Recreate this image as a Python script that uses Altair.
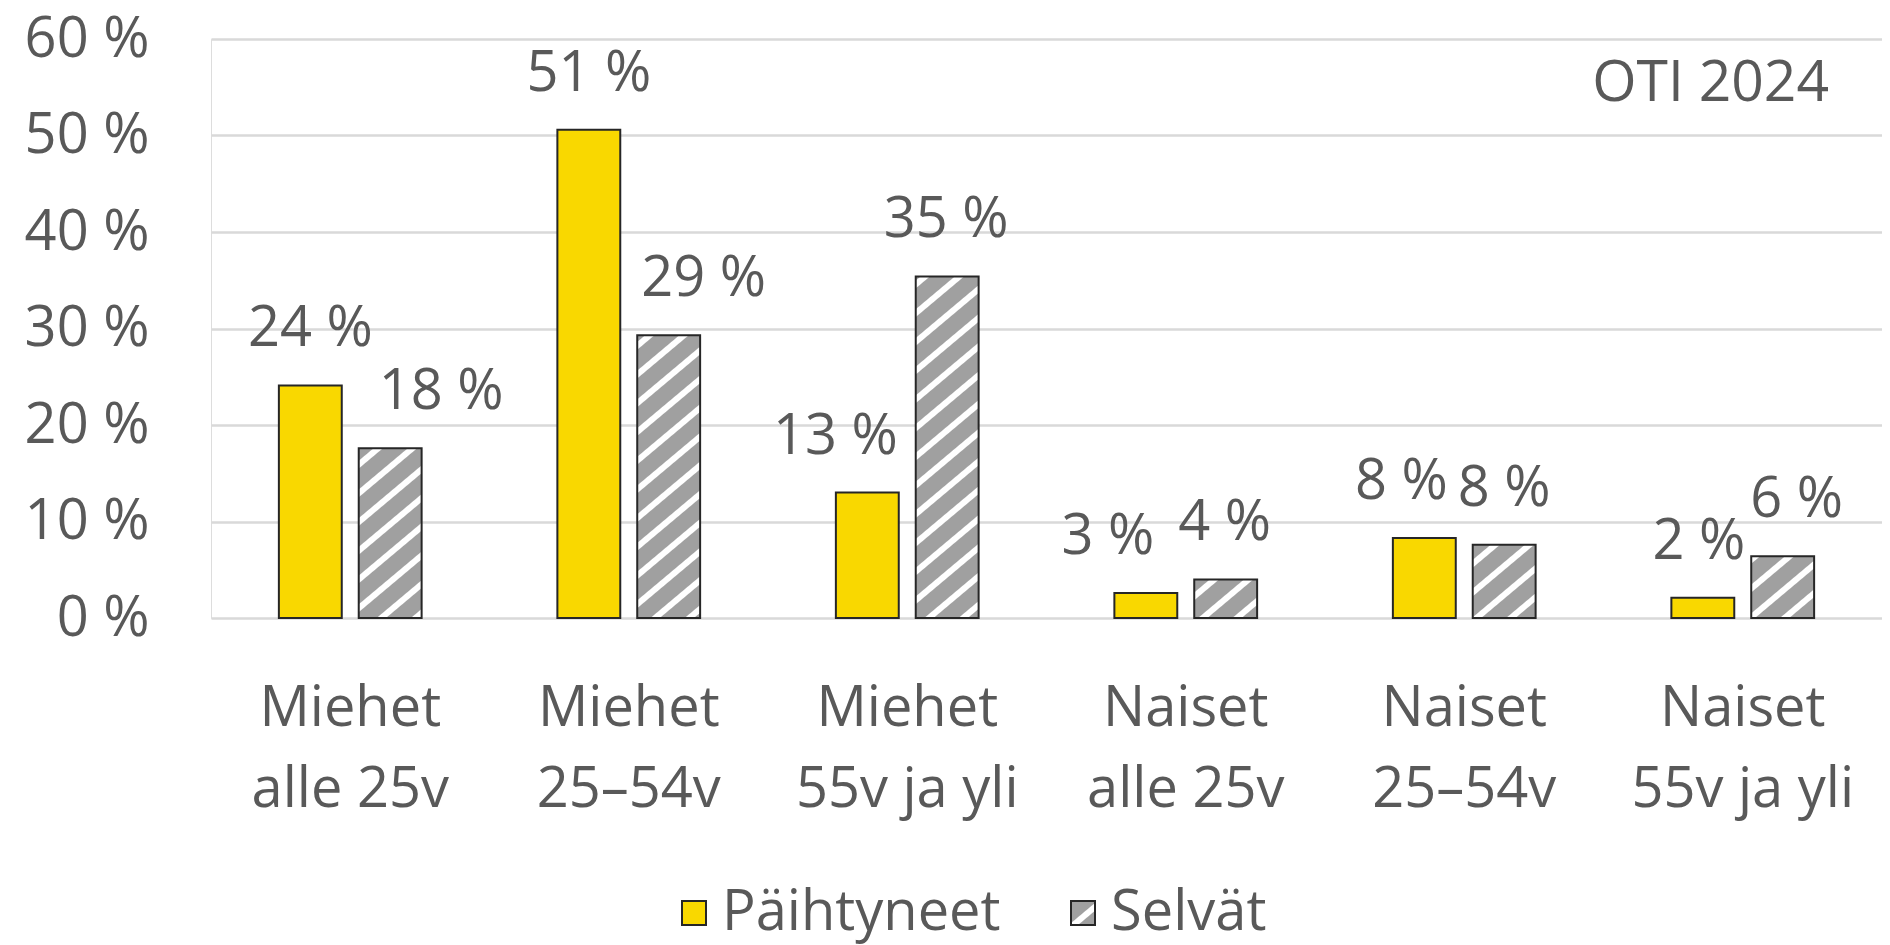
import altair as alt
import pandas as pd
import jinja2

# ---------------- data ----------------
CATEGORIES = ["Miehet alle 25v", "Miehet 25–54v", "Miehet 55v ja yli",
              "Naiset alle 25v", "Naiset 25–54v", "Naiset 55v ja yli"]
SERIES = ["Päihtyneet", "Selvät"]
PAIHTYNEET = [24.1, 50.6, 13.0, 2.6, 8.3, 2.1]
SELVAT = [17.6, 29.3, 35.4, 4.0, 7.6, 6.4]
Y_TICKS = [0, 10, 20, 30, 40, 50, 60]
NOTE = "OTI 2024"

# label nudges (style, px) as placed in the original chart
NUDGE_P = [0, 0, -32, -38, -23, -4]
NUDGE_S = [51, 35, -1, -1, 0, 14]

rows = []
for i, c in enumerate(CATEGORIES):
    rows.append({"cat": c, "series": SERIES[0], "value": PAIHTYNEET[i],
                 "label": f"{round(PAIHTYNEET[i])} %", "nudge": NUDGE_P[i]})
    rows.append({"cat": c, "series": SERIES[1], "value": SELVAT[i],
                 "label": f"{round(SELVAT[i])} %", "nudge": NUDGE_S[i]})
df = pd.DataFrame(rows)

FONT = "Open Sans"
TXT = "#595959"
FS = 56
W, H = 1671, 579

x = alt.X("cat:N", sort=CATEGORIES, title=None,
          scale=alt.Scale(paddingInner=0, paddingOuter=0),
          axis=alt.Axis(labelAngle=0, labelFontSize=FS, labelColor=TXT, labelFont=FONT,
                        labelLineHeight=81, labelPadding=63, domain=False, ticks=False,
                        grid=False, labelLimit=0,
                        labelExpr="[slice(datum.label, 0, indexof(datum.label, ' ')), slice(datum.label, indexof(datum.label, ' ') + 1)]"))
xo = alt.XOffset("series:N", sort=SERIES,
                 scale=alt.Scale(paddingInner=0.2125, paddingOuter=0.85))
y = alt.Y("value:Q", title=None,
          scale=alt.Scale(domain=[0, 60], nice=False),
          axis=alt.Axis(values=Y_TICKS, labelExpr="datum.value + ' %'", labelFontSize=FS,
                        labelColor=TXT, labelFont=FONT, labelPadding=62, labelLimit=0,
                        domain=False, ticks=False, gridColor="#D9D9D9", gridWidth=2.5))

bars = alt.Chart(df).mark_bar(stroke="#262626", strokeWidth=2).encode(
    x=x, xOffset=xo, y=y,
    color=alt.Color("series:N", sort=SERIES,
                    scale=alt.Scale(domain=SERIES, range=["#F9D800", "url(#hatch)"]),
                    legend=alt.Legend(title=None, orient="none", legendX=455, legendY=846,
                                      direction="horizontal", labelFontSize=FS,
                                      labelColor=TXT, labelFont=FONT, symbolType="square",
                                      symbolSize=576, symbolStrokeColor="#262626",
                                      symbolStrokeWidth=2, columnPadding=54, labelOffset=0,
                                      labelLimit=0))
)

labels = alt.Chart(df).mark_text(fontSize=FS, color=TXT, font=FONT, baseline="middle",
                                 dy=-56, dx={"expr": "datum.nudge"}).encode(
    x=x, xOffset=xo, y=y, text="label:N"
)

note_df = pd.DataFrame({"t": [NOTE]})
note = alt.Chart(note_df).mark_text(fontSize=57, color=TXT, font=FONT, align="right",
                                    baseline="middle").encode(
    x=alt.value(1618), y=alt.value(45), text="t:N"
)

chart = alt.layer(bars, labels, note).properties(
    width=W, height=H,
    autosize=alt.AutoSizeParams(type="none"),
    padding={"left": 203, "top": 31, "right": 0, "bottom": 340},
).configure_view(stroke=None).configure(font=FONT)

PAGE = jinja2.Template("""<!DOCTYPE html>
<html>
<head>
<meta charset="utf-8">
<style>html, body { overflow: hidden; }</style>
<script type="text/javascript" src="{{ base_url }}/vega@{{ vega_version }}"></script>
<script type="text/javascript" src="{{ base_url }}/vega-lite@{{ vegalite_version }}"></script>
<script type="text/javascript" src="{{ base_url }}/vega-embed@{{ vegaembed_version }}"></script>
</head>
<body>
<svg width="0" height="0" style="position:absolute">
<defs>
<pattern id="hatch" patternUnits="userSpaceOnUse" width="22" height="22" patternTransform="rotate(50)">
<rect width="22" height="22" fill="#A0A0A0"/>
<rect width="6" height="22" fill="#FFFFFF"/>
</pattern>
</defs>
</svg>
<div id="{{ output_div }}"></div>
<script>
vegaEmbed("#{{ output_div }}", {{ spec }}, {{ embed_options }});
</script>
</body>
</html>""")

chart.save("out.html", embed_options={"renderer": "svg", "actions": False}, template=PAGE)
